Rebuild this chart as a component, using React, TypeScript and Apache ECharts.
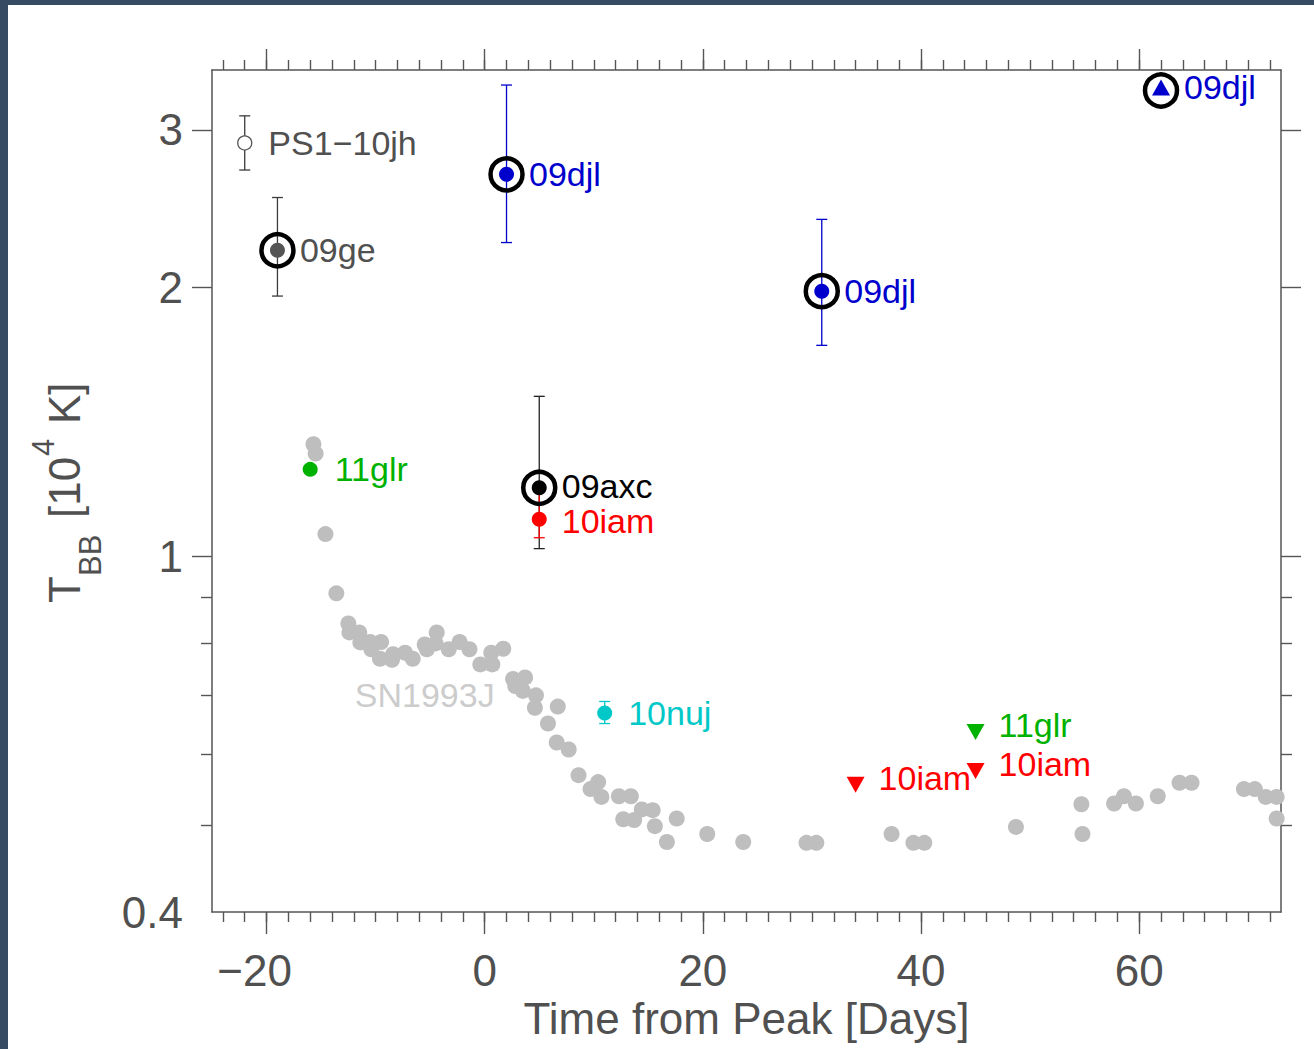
import React, { useEffect, useRef } from "react";
import * as echarts from "echarts";

const FONT = '"Liberation Sans", Arial, Helvetica, sans-serif';
const AXIS_COLOR = "#555555";
const TEXT_GRAY = "#505050";

// ---- axes ----
const X_MIN = -25;
const X_MAX = 73;
const xMajorTicks = [-20, 0, 20, 40, 60];
const xMinorTicks = Array.from({ length: 49 }, (_, i) => -24 + 2 * i);
const Y_MIN = 0.4;
const Y_MAX = 3.5;
const yTickLabels = [0.4, 1, 2, 3];
const yMajorTicks = [1, 2, 3];
const yMinorTicks = [0.5, 0.6, 0.7, 0.8, 0.9];

// ---- data (days from peak, T_BB in 1e4 K) ----
const sn1993jDays = [
  -15.7, -15.5, -14.6, -13.6, -12.5, -12.4, -11.5, -11.4, -10.5, -9.5, -10.4, -9.6, -8.4, -8.5,
  -7.3, -6.6, -5.5, -5.3, -4.4, -4.5, -3.3, -2.3, -1.4, -0.4, 0.6, 0.7, 1.7,
  2.6, 3.7, 2.8, 3.5, 4.7, 4.6, 6.7, 5.8, 6.6, 7.7, 8.6, 10.4, 9.7, 10.7, 12.3, 13.4, 14.4, 15.4,
  12.7, 13.7, 15.6, 17.6, 16.7, 20.4, 23.7,
  29.5, 30.4, 37.3, 39.3, 40.3, 48.7, 54.7, 54.8,
  57.7, 58.6, 59.7, 61.7, 63.7, 64.8, 69.6, 70.6, 71.6, 72.6, 72.6,
];
const sn1993jTemps = [
  1.335, 1.303, 1.059, 0.909, 0.841, 0.822, 0.822, 0.801, 0.802, 0.802, 0.787, 0.768, 0.777, 0.766,
  0.78, 0.768, 0.797, 0.787, 0.822, 0.799, 0.787, 0.802, 0.787, 0.757, 0.78, 0.757, 0.788,
  0.729, 0.732, 0.716, 0.707, 0.699, 0.677, 0.679, 0.65, 0.619, 0.608, 0.569, 0.559, 0.549, 0.538, 0.539, 0.539, 0.521, 0.52,
  0.508, 0.507, 0.499, 0.509, 0.479, 0.489, 0.479,
  0.478, 0.478, 0.489, 0.478, 0.478, 0.498, 0.528, 0.489,
  0.529, 0.539, 0.529, 0.539, 0.558, 0.558, 0.549, 0.549, 0.538, 0.538, 0.509,
];
const sn1993jLabelDay = [-5.5];
const sn1993jLabelTemp = [0.7];

const ps1Days = [-22.0];
const ps1Temps = [2.9];
const ps1ErrLow = [2.705];
const ps1ErrHigh = [3.11];

const sn09geDays = [-19.0];
const sn09geTemps = [2.2];
const sn09geErrLow = [1.955];
const sn09geErrHigh = [2.52];

const sn09djlDays = [2.0, 30.9];
const sn09djlTemps = [2.675, 1.98];
const sn09djlErrLow = [2.244, 1.722];
const sn09djlErrHigh = [3.367, 2.382];

const sn09djlLimitDays = [62.0];
const sn09djlLimitTemps = [3.32];

const sn09axcDays = [5.0];
const sn09axcTemps = [1.193];
const sn09axcErrLow = [1.02];
const sn09axcErrHigh = [1.51];

const sn10iamDays = [5.0];
const sn10iamTemps = [1.1];
const sn10iamErrLow = [1.049];
const sn10iamErrHigh = [1.18];

const sn10iamLimitDays = [34.0, 45.0];
const sn10iamLimitTemps = [0.555, 0.575];

const sn11glrDays = [-16.0];
const sn11glrTemps = [1.251];

const sn11glrLimitDays = [45.0];
const sn11glrLimitTemps = [0.636];

const sn10nujDays = [11.0];
const sn10nujTemps = [0.668];
const sn10nujErrLow = [0.65];
const sn10nujErrHigh = [0.688];

// ---- colours ----
const BLUE = "#0000cd";
const RED = "#ff0000";
const GREEN = "#00b200";
const CYAN = "#00c8c8";
const GRAY_PT = "#bebebe";

const lg = (v: number) => Math.log10(v);
const pts = (days: number[], temps: number[]) => days.map((d, i) => [d, lg(temps[i])]);

const DOWN_TRI = "path://M0,0L10,0L5,9Z";

function errorSeries(days: number[], lows: number[], highs: number[], color: string) {
  return {
    type: "custom",
    silent: true,
    data: days.map((d, i) => [d, lg(lows[i]), lg(highs[i])]),
    renderItem: (_params: any, api: any) => {
      const x = api.value(0);
      const lo = api.coord([x, api.value(1)]);
      const hi = api.coord([x, api.value(2)]);
      const hw = 5.5;
      const style = { stroke: color, lineWidth: 1.3, fill: null };
      return {
        type: "group",
        children: [
          { type: "line", shape: { x1: lo[0], y1: lo[1], x2: hi[0], y2: hi[1] }, style },
          { type: "line", shape: { x1: lo[0] - hw, y1: lo[1], x2: lo[0] + hw, y2: lo[1] }, style },
          { type: "line", shape: { x1: hi[0] - hw, y1: hi[1], x2: hi[0] + hw, y2: hi[1] }, style },
        ],
      };
    },
  };
}

function pointSeries(
  name: string,
  data: number[][],
  color: string,
  labelColor: string,
  extra: any = {},
  labelExtra: any = {}
) {
  return {
    type: "scatter",
    name,
    data,
    symbol: "circle",
    symbolSize: 15,
    itemStyle: { color, opacity: 1 },
    label: {
      show: true,
      position: "right",
      distance: 15,
      formatter: name,
      color: labelColor,
      fontSize: 34,
      lineHeight: 28,
      fontFamily: FONT,
      ...labelExtra,
    },
    ...extra,
  };
}

function buildOption() {
  const tickLine = { color: AXIS_COLOR, width: 1.4 };
  const axisLine = { show: true, onZero: false, lineStyle: { color: AXIS_COLOR, width: 1.5 } };
  const noLine = { show: false, onZero: false };
  const xBase = { type: "value", min: X_MIN, max: X_MAX, splitLine: { show: false } };
  const yBase = { type: "value", min: lg(Y_MIN), max: lg(Y_MAX), splitLine: { show: false } };

  const xAxis = [
    {
      ...xBase,
      position: "bottom",
      axisLine,
      axisTick: { show: true, length: 22, customValues: xMajorTicks, lineStyle: tickLine },
      axisLabel: {
        show: true,
        customValues: xMajorTicks,
        margin: 36,
        fontSize: 44,
        fontFamily: FONT,
        color: TEXT_GRAY,
        formatter: (v: number) => (v < 0 ? `{neg|\u2212${Math.abs(v)}}` : String(v)),
        rich: {
          neg: { fontSize: 44, fontFamily: FONT, color: TEXT_GRAY, padding: [0, 24, 0, 0] },
        },
      },
      name: "Time from Peak [Days]",
      nameLocation: "middle",
      nameGap: 71,
      nameTextStyle: { fontSize: 44, fontFamily: FONT, color: TEXT_GRAY },
    },
    {
      ...xBase,
      position: "bottom",
      axisLine: noLine,
      axisTick: { show: true, length: 10, customValues: xMinorTicks, lineStyle: tickLine },
      axisLabel: { show: false },
    },
    {
      ...xBase,
      position: "top",
      axisLine,
      axisTick: { show: true, length: 21, customValues: xMajorTicks, lineStyle: tickLine },
      axisLabel: { show: false },
    },
    {
      ...xBase,
      position: "top",
      axisLine: noLine,
      axisTick: { show: true, length: 10, customValues: xMinorTicks, lineStyle: tickLine },
      axisLabel: { show: false },
    },
  ];

  const yAxis = [
    {
      ...yBase,
      position: "left",
      axisLine,
      axisTick: { show: true, length: 20, customValues: yMajorTicks.map(lg), lineStyle: tickLine },
      axisLabel: {
        show: true,
        customValues: yTickLabels.map(lg),
        margin: 29,
        fontSize: 44,
        fontFamily: FONT,
        color: TEXT_GRAY,
        formatter: (v: number) => String(Math.round(Math.pow(10, v) * 10) / 10),
      },
    },
    {
      ...yBase,
      position: "left",
      axisLine: noLine,
      axisTick: { show: true, length: 11, customValues: yMinorTicks.map(lg), lineStyle: tickLine },
      axisLabel: { show: false },
    },
    {
      ...yBase,
      position: "right",
      axisLine,
      axisTick: { show: true, length: 20, customValues: yMajorTicks.map(lg), lineStyle: tickLine },
      axisLabel: { show: false },
    },
    {
      ...yBase,
      position: "right",
      axisLine: noLine,
      axisTick: { show: true, length: 11, customValues: yMinorTicks.map(lg), lineStyle: tickLine },
      axisLabel: { show: false },
    },
  ];

  const ringData = [
    ...pts(sn09geDays, sn09geTemps),
    ...pts(sn09djlDays, sn09djlTemps),
    ...pts(sn09djlLimitDays, sn09djlLimitTemps),
    ...pts(sn09axcDays, sn09axcTemps),
  ];

  const series: any[] = [
    {
      type: "scatter",
      name: "SN1993J",
      data: pts(sn1993jDays, sn1993jTemps),
      symbol: "circle",
      symbolSize: 16,
      itemStyle: { color: GRAY_PT, opacity: 1 },
    },
    {
      type: "scatter",
      name: "SN1993J label",
      data: pts(sn1993jLabelDay, sn1993jLabelTemp),
      symbolSize: 1,
      itemStyle: { color: "rgba(0,0,0,0)" },
      label: {
        show: true,
        position: "inside",
        formatter: "SN1993J",
        color: GRAY_PT,
        fontSize: 34,
        lineHeight: 28,
        fontFamily: FONT,
      },
    },
    errorSeries(ps1Days, ps1ErrLow, ps1ErrHigh, "#3c3c3c"),
    errorSeries(sn09geDays, sn09geErrLow, sn09geErrHigh, "#3c3c3c"),
    errorSeries(sn09djlDays, sn09djlErrLow, sn09djlErrHigh, BLUE),
    errorSeries(sn09axcDays, sn09axcErrLow, sn09axcErrHigh, "#222222"),
    errorSeries(sn10iamDays, sn10iamErrLow, sn10iamErrHigh, RED),
    errorSeries(sn10nujDays, sn10nujErrLow, sn10nujErrHigh, CYAN),
    {
      type: "scatter",
      name: "rings",
      data: ringData,
      symbol: "circle",
      symbolSize: 32,
      itemStyle: { color: "rgba(0,0,0,0)", borderColor: "#000000", borderWidth: 4.5, opacity: 1 },
    },
    pointSeries("PS1\u221210jh", pts(ps1Days, ps1Temps), "#ffffff", TEXT_GRAY, {
      symbolSize: 14,
      itemStyle: { color: "#ffffff", borderColor: "#555555", borderWidth: 1.3, opacity: 1 },
    }, { distance: 16 }),
    pointSeries("09ge", pts(sn09geDays, sn09geTemps), "#555555", TEXT_GRAY),
    pointSeries("09djl", pts(sn09djlDays, sn09djlTemps), BLUE, BLUE),
    pointSeries("09djl", pts(sn09djlLimitDays, sn09djlLimitTemps), BLUE, BLUE, {
      symbol: "triangle",
      symbolSize: [18, 16],
      symbolOffset: [0, -3],
    }, { distance: 14 }),
    pointSeries("09axc", pts(sn09axcDays, sn09axcTemps), "#000000", "#000000", {}, { offset: [0, -2] }),
    pointSeries("10iam", pts(sn10iamDays, sn10iamTemps), RED, RED, {}, { offset: [0, 2] }),
    pointSeries("11glr", pts(sn11glrDays, sn11glrTemps), GREEN, GREEN, {}, { distance: 17 }),
    pointSeries("10nuj", pts(sn10nujDays, sn10nujTemps), CYAN, CYAN, {}, { distance: 16 }),
    pointSeries("10iam", pts(sn10iamLimitDays, sn10iamLimitTemps), RED, RED, {
      symbol: DOWN_TRI,
      symbolSize: [18, 16],
    }, { distance: 14, offset: [0, -7] }),
    pointSeries("11glr", pts(sn11glrLimitDays, sn11glrLimitTemps), GREEN, GREEN, {
      symbol: DOWN_TRI,
      symbolSize: [18, 16],
    }, { distance: 14, offset: [0, -7] }),
  ];

  const titleStyle = (text: string, size: number) => ({
    text,
    fontSize: size,
    fontFamily: FONT,
    fill: TEXT_GRAY,
    align: "left",
    verticalAlign: "middle",
    textAlign: "left",
    textVerticalAlign: "middle",
  });

  const graphic = [
    { type: "text", x: 64, y: 603, rotation: Math.PI / 2, style: titleStyle("T", 44) },
    { type: "text", x: 90.5, y: 576, rotation: Math.PI / 2, style: titleStyle("BB", 31) },
    { type: "text", x: 64, y: 518, rotation: Math.PI / 2, style: titleStyle("[10", 44) },
    { type: "text", x: 43, y: 456, rotation: Math.PI / 2, style: titleStyle("4", 31) },
    { type: "text", x: 64, y: 424, rotation: Math.PI / 2, style: titleStyle("K]", 44) },
  ];

  return {
    animation: false,
    backgroundColor: "transparent",
    grid: { left: 212, top: 70, right: 33, bottom: 137, containLabel: false },
    xAxis,
    yAxis,
    series,
    graphic,
  };
}

export default function App() {
  const ref = useRef<HTMLDivElement>(null);
  useEffect(() => {
    if (!ref.current) return;
    const chart = echarts.init(ref.current, null, { renderer: "svg", width: 1314, height: 1049 });
    chart.setOption(buildOption() as any);
    return () => chart.dispose();
  }, []);
  return (
    <div
      style={{
        position: "fixed",
        left: 0,
        top: 0,
        width: 1314,
        height: 1049,
        background: "#374c63",
        overflow: "hidden",
      }}
    >
      <div style={{ position: "absolute", left: 8, top: 5, right: 0, bottom: 0, background: "#ffffff" }} />
      <div ref={ref} style={{ position: "absolute", left: 0, top: 0, width: 1314, height: 1049 }} />
    </div>
  );
}
